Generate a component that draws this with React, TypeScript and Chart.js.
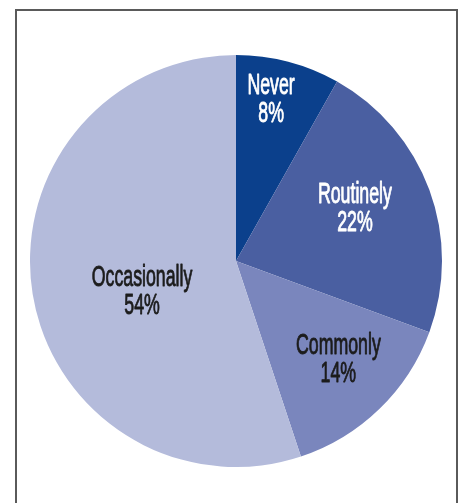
import React, { useEffect, useRef } from "react";
import { Chart, registerables } from "chart.js";

Chart.register(...registerables);

const categories = ["Never", "Routinely", "Commonly", "Occasionally"];
const percentValues = [8, 22, 14, 54];
const sliceColors = ["#0b408c", "#4a5fa1", "#7a86bd", "#b4bbdb"];
const labelColors = ["#ffffff", "#ffffff", "#1c1c1c", "#1c1c1c"];
// label placement: radial fraction of outer radius, angle tweak (degrees)
const labelRadius = [0.8, 0.63, 0.69, 0.48];
const labelAngleShift = [-2.4, -3.4, -2, -9];

const labelPlugin = {
  id: "sliceLabels",
  afterDatasetsDraw(chart: any) {
    const ctx = chart.ctx as CanvasRenderingContext2D;
    const meta = chart.getDatasetMeta(0);
    const fontSize = 30;
    ctx.save();
    ctx.font = `normal ${fontSize}px "Liberation Sans Narrow", "Liberation Sans", sans-serif`;
    const ref = ctx.measureText("Routinely").width;
    const sx = 74 / ref;
    ctx.textAlign = "center";
    ctx.textBaseline = "middle";
    ctx.lineJoin = "round";
    meta.data.forEach((arc: any, i: number) => {
      const p = arc.getProps(["x", "y", "startAngle", "endAngle", "outerRadius"], true);
      const mid = (p.startAngle + p.endAngle) / 2 + (labelAngleShift[i] * Math.PI) / 180;
      const r = p.outerRadius * labelRadius[i];
      const cx = p.x + Math.cos(mid) * r;
      const cy = p.y + Math.sin(mid) * r;
      ctx.fillStyle = labelColors[i];
      ctx.strokeStyle = labelColors[i];
      ctx.lineWidth = 0.9;
      const lines = [categories[i], percentValues[i] + "%"];
      lines.forEach((t, k) => {
        ctx.save();
        ctx.translate(cx, cy + (k - 0.5) * 28);
        ctx.scale(sx, 1);
        ctx.fillText(t, 0, 0);
        ctx.strokeText(t, 0, 0);
        ctx.restore();
      });
    });
    ctx.restore();
  },
};

export default function App() {
  const ref = useRef<HTMLCanvasElement>(null);
  useEffect(() => {
    if (!ref.current) return;
    const chart = new Chart(ref.current, {
      type: "pie",
      data: {
        labels: categories,
        datasets: [
          {
            data: percentValues,
            backgroundColor: sliceColors,
            borderWidth: 0,
          },
        ],
      },
      options: {
        responsive: false,
        animation: false,
        layout: { padding: 0 },
        plugins: {
          legend: { display: false },
          tooltip: { enabled: false },
          title: { display: false },
        },
      },
      plugins: [labelPlugin],
    });
    return () => chart.destroy();
  }, []);

  return (
    <div
      style={{
        position: "fixed",
        left: 0,
        top: 0,
        width: 461,
        height: 503,
        background: "#ffffff",
        overflow: "hidden",
      }}
    >
      <div
        style={{
          position: "absolute",
          left: 15,
          top: 9,
          width: 439,
          height: 520,
          border: "2px solid #5a5a5a",
        }}
      />
      <canvas
        ref={ref}
        width={412}
        height={412}
        style={{ position: "absolute", left: 30, top: 55, width: 412, height: 412 }}
      />
    </div>
  );
}
